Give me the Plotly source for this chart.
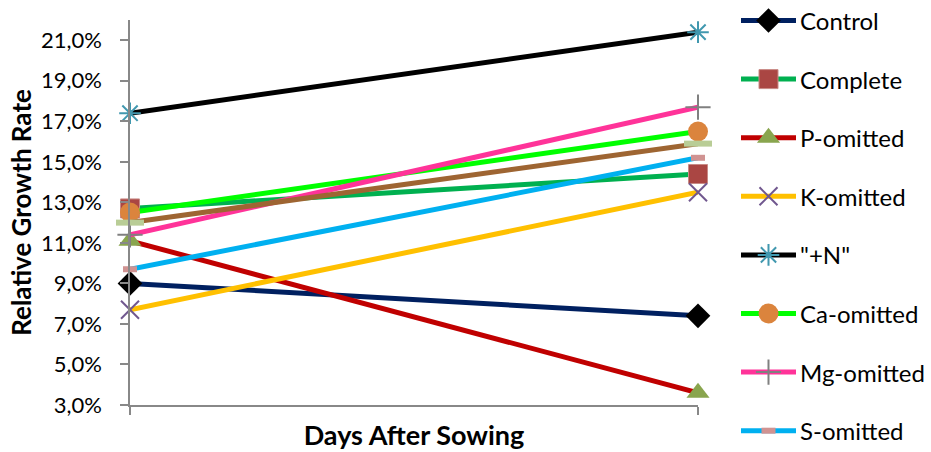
import plotly.graph_objects as go

# Sampling points (category axis, two dates)
categories = ["", ""]

series_names = ["Control", "Complete", "P-omitted", "K-omitted", '"+N"',
                "Ca-omitted", "Mg-omitted", "S-omitted", "Fe-omitted"]

# Relative growth rate at the first and second sampling (fractions)
control = [0.090, 0.074]
complete = [0.127, 0.144]
p_omitted = [0.111, 0.036]
k_omitted = [0.077, 0.135]
plus_n = [0.174, 0.214]
ca_omitted = [0.125, 0.165]
mg_omitted = [0.114, 0.177]
s_omitted = [0.097, 0.152]
fe_omitted = [0.120, 0.159]

values = [control, complete, p_omitted, k_omitted, plus_n,
          ca_omitted, mg_omitted, s_omitted, fe_omitted]

line_colors = ["#002060", "#00B050", "#C00000", "#FFC000", "#000000",
               "#00FF00", "#FF3399", "#00B0F0", "#9E6532"]

markers = [
    dict(symbol="diamond", size=19, color="#000000"),
    dict(symbol="square", size=19, color="#AA4643", line=dict(color="#C98A86", width=1)),
    dict(symbol="triangle-up", size=20, color="#89A54E"),
    dict(symbol="x-thin", size=18, color="#71588F", line=dict(color="#71588F", width=2)),
    dict(symbol="asterisk", size=18, color="#4198AF", line=dict(color="#4198AF", width=2)),
    dict(symbol="circle", size=20, color="#DB843D"),
    dict(symbol="cross-thin", size=18, color="#808080", line=dict(color="#808080", width=2)),
    dict(symbol="line-ew", size=10, color="#D09392", line=dict(color="#D09392", width=6)),
    dict(symbol="line-ew", size=20, color="#B9CD96", line=dict(color="#B9CD96", width=6)),
]

W, H = 931, 452
# plot area in pixels
X0, X1, Y_TOP, Y_BOT = 130, 698, 20, 405

FONT = "Lato"
AXIS_GRAY = "#888888"

fig = go.Figure()

x_pos = list(range(len(categories)))
for name, vals, lc, mk in zip(series_names, values, line_colors, markers):
    fig.add_trace(go.Scatter(
        x=x_pos, y=vals, name=name, mode="lines+markers",
        line=dict(color=lc, width=5), marker=mk, cliponaxis=False,
        showlegend=False, xaxis="x", yaxis="y",
    ))

# Legend drawn as sample line + marker + label on its own axes
LEG_TOP, LEG_STEP = 20.5, 58.6
for i, (name, lc, mk) in enumerate(zip(series_names, line_colors, markers)):
    yy = LEG_TOP + LEG_STEP * i
    fig.add_trace(go.Scatter(
        x=[741, 796], y=[yy, yy], mode="lines", line=dict(color=lc, width=5),
        showlegend=False, hoverinfo="skip", xaxis="x2", yaxis="y2", cliponaxis=True,
    ))
    fig.add_trace(go.Scatter(
        x=[768.5], y=[yy], mode="markers", marker=mk,
        showlegend=False, hoverinfo="skip", xaxis="x2", yaxis="y2", cliponaxis=True,
    ))
    fig.add_annotation(
        x=798, y=yy, xref="x2", yref="y2", text=name, showarrow=False,
        xanchor="left", yanchor="middle", font=dict(family=FONT, size=24, color="#000000"),
    )

fig.update_layout(
    width=W, height=H,
    margin=dict(l=0, r=0, t=0, b=0),
    paper_bgcolor="white", plot_bgcolor="rgba(0,0,0,0)",
    separators=",.",
    showlegend=False,
    font=dict(family=FONT, color="#000000"),
    xaxis=dict(
        domain=[X0 / W, X1 / W], range=[0, 1], tickvals=x_pos, ticktext=categories,
        showgrid=False, zeroline=False, showline=True, linecolor=AXIS_GRAY, linewidth=1.5,
        ticks="outside", ticklen=8, tickcolor=AXIS_GRAY, tickwidth=1.5, automargin=False,
        title=dict(text="<b>Days After Sowing</b>", font=dict(family=FONT, size=27), standoff=10),
    ),
    yaxis=dict(
        domain=[1 - Y_BOT / H, 1 - Y_TOP / H], range=[0.03, 0.22],
        tickvals=[0.03 + 0.02 * k for k in range(10)], tickformat=".1%",
        tickfont=dict(family=FONT, size=22), ticklabelstandoff=14,
        showgrid=False, zeroline=False, showline=True, linecolor=AXIS_GRAY, linewidth=1.5,
        ticks="outside", ticklen=8, tickcolor=AXIS_GRAY, tickwidth=1.5, automargin=False,
        title=dict(text="<b>Relative Growth Rate</b>", font=dict(family=FONT, size=26), standoff=2),
    ),
    xaxis2=dict(domain=[0, 1], range=[0, W], visible=False, fixedrange=True, automargin=False),
    yaxis2=dict(domain=[0, 1], range=[H, 0], visible=False, fixedrange=True, automargin=False),
)

fig.write_html("out.html")
